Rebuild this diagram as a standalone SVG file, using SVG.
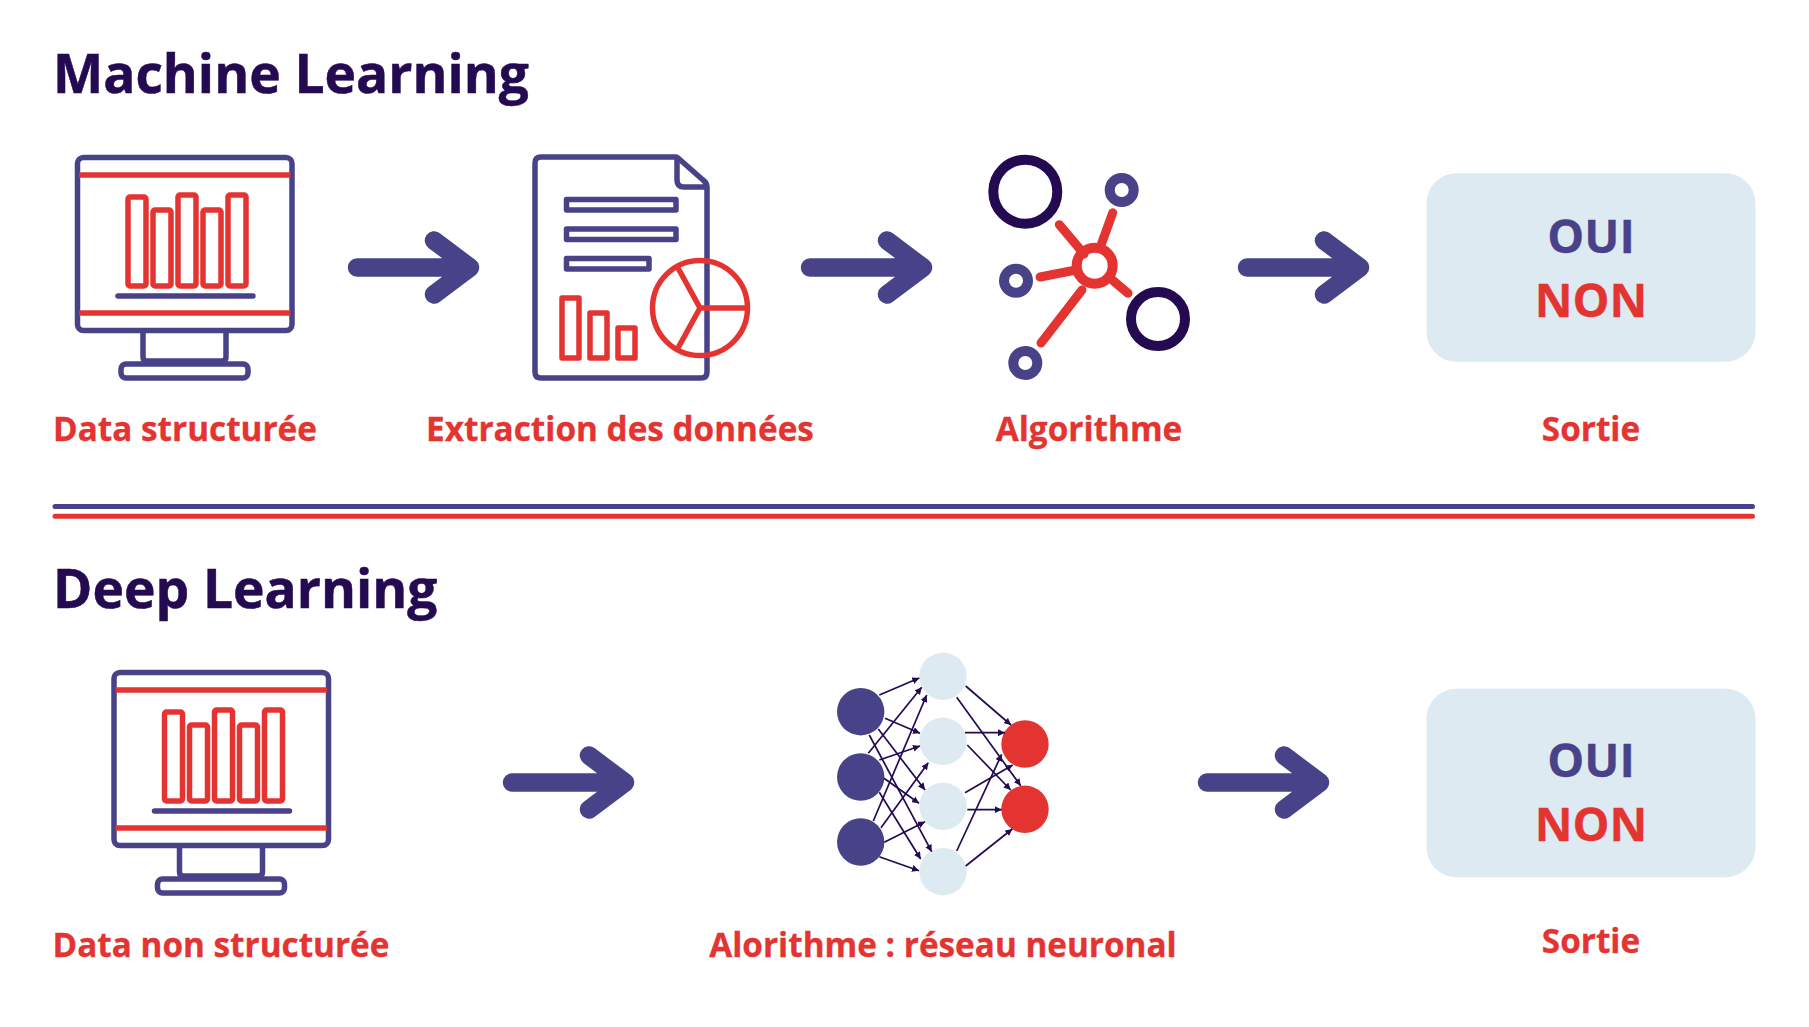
<svg xmlns="http://www.w3.org/2000/svg" xmlns:xlink="http://www.w3.org/1999/xlink" width="1809" height="1027" viewBox="0 0 1809 1027">
<style>
text{font-family:"Open Sans","Noto Sans",sans-serif;font-weight:700}
.t{font-size:53.300px;fill:#230a51;stroke:#230a51;stroke-width:.5}
.l{font-size:33.300px;fill:#e33432;text-anchor:middle;stroke:#e33432;stroke-width:.3}
.o{font-size:46.500px;fill:#484288;text-anchor:middle;stroke:#484288;stroke-width:.3}
.n{font-size:46.500px;fill:#e33432;text-anchor:middle;stroke:#e33432;stroke-width:.3}
.b{fill:none;stroke:#484288;stroke-width:5.500;stroke-linejoin:round;stroke-linecap:round}
.r{fill:none;stroke:#e33432;stroke-width:5.500;stroke-linejoin:round;stroke-linecap:round}
.w{fill:none;stroke:#484288;stroke-width:18.500;stroke-linecap:round;stroke-linejoin:round}
.box{fill:#deeaf2}
.e{stroke:#230a51;stroke-width:1.700;fill:none;marker-end:url(#m)}
</style>
<defs>
<marker id="m" markerUnits="userSpaceOnUse" markerWidth="8" markerHeight="7" refX="7" refY="3.500" orient="auto"><path d="M0 0L7 3.500L0 7z" fill="#230a51"/></marker>
<g id="monitor">
<rect class="b" x="77.500" y="157.500" width="214.500" height="173" rx="6"/>
<path class="r" style="stroke-linecap:butt" d="M79 175H290.500M79 313H290.500"/>
<rect class="r" x="128" y="197" width="18" height="89" rx="2"/>
<rect class="r" x="153" y="210" width="18" height="76" rx="2"/>
<rect class="r" x="178" y="195" width="18" height="91" rx="2"/>
<rect class="r" x="203" y="210" width="18" height="76" rx="2"/>
<rect class="r" x="228" y="195" width="18" height="91" rx="2"/>
<path class="b" d="M118 296H253"/>
<path class="b" d="M143 332V357Q143 361 147 361H222Q226 361 226 357V332"/>
<rect class="b" x="121" y="364" width="127" height="14" rx="5"/>
</g>
</defs>

<text class="t" x="53" y="93">Machine Learning</text>
<text class="t" x="53" y="608">Deep Learning</text>
<path d="M55 506.500H1752.500" stroke="#484288" stroke-width="5" stroke-linecap="round"/>
<path d="M55 516.300H1752.500" stroke="#e33432" stroke-width="5" stroke-linecap="round"/>

<g id="connectors">
<path class="w" d="M357 267.500H470M434 240.500L470 267.500L434 294.500"/>
<path class="w" d="M810 267.500H923M887 240.500L923 267.500L887 294.500"/>
<path class="w" d="M1247 267.500H1360M1324 240.500L1360 267.500L1324 294.500"/>
<path class="w" d="M512 782.500H625M589 755.500L625 782.500L589 809.500"/>
<path class="w" d="M1207 782.500H1320M1284 755.500L1320 782.500L1284 809.500"/>
</g>

<g id="node-data-structuree">
<use xlink:href="#monitor" href="#monitor"/>
<text class="l" x="185" y="441">Data structurée</text>
</g>

<g id="node-extraction">
<path class="b" d="M676 157H541Q535 157 535 163V372Q535 378 541 378H701Q707 378 707 372V187Q707 183 703 180L678 158ZM677 158V180Q677 187 684 187H704"/>
<path class="b" d="M566.500 199.500H676V210H566.500ZM566.500 229H676V239.500H566.500ZM566.500 258.500H649V269H566.500Z"/>
<path class="r" d="M562 298H579V358H562ZM590 313H607V358H590ZM618 328H635V358H618Z"/>
<circle class="r" cx="700" cy="308" r="47.500"/>
<path class="r" d="M678 268L700 308H747M700 308L678 348"/>
<text class="l" x="620" y="441">Extraction des données</text>
</g>

<g id="node-algorithme">
<circle cx="1025.300" cy="191.700" r="32" fill="none" stroke="#230a51" stroke-width="10"/>
<circle cx="1158" cy="319" r="27" fill="none" stroke="#230a51" stroke-width="10"/>
<circle cx="1121.700" cy="190" r="12" fill="none" stroke="#484288" stroke-width="10"/>
<circle cx="1016" cy="280.700" r="12" fill="none" stroke="#484288" stroke-width="10"/>
<circle cx="1025.300" cy="363" r="12" fill="none" stroke="#484288" stroke-width="10"/>
<path d="M1059.300 224.700L1084 254M1112.700 212.700L1100 248M1040 277L1076 270M1041 343L1082 290M1128 293.300L1110 278" fill="none" stroke="#e33432" stroke-width="9" stroke-linecap="round"/>
<circle cx="1094.700" cy="265.700" r="18" fill="none" stroke="#e33432" stroke-width="10"/>
<text class="l" x="1089" y="441">Algorithme</text>
</g>

<g id="node-sortie-1">
<rect class="box" x="1426.500" y="173.300" width="329" height="188.500" rx="30"/>
<text class="o" x="1591" y="253">OUI</text>
<text class="n" x="1591" y="317">NON</text>
<text class="l" x="1591" y="441">Sortie</text>
</g>

<g id="node-data-non-structuree">
<use xlink:href="#monitor" href="#monitor" x="36.500" y="515"/>
<text class="l" x="221" y="957">Data non structurée</text>
</g>

<g id="node-reseau">
<circle cx="860.700" cy="711.700" r="23.700" fill="#484288"/>
<circle cx="860.700" cy="777" r="23.700" fill="#484288"/>
<circle cx="860.700" cy="842" r="23.700" fill="#484288"/>
<circle class="box" cx="943" cy="676.300" r="23.700"/>
<circle class="box" cx="943" cy="741.300" r="23.700"/>
<circle class="box" cx="943" cy="806.300" r="23.700"/>
<circle class="box" cx="943" cy="871.700" r="23.700"/>
<circle cx="1025" cy="744" r="23.700" fill="#e33432"/>
<circle cx="1025" cy="809.300" r="23.700" fill="#e33432"/>
<g class="edges">
<path class="e" d="M879.300 695L919.300 678"/><path class="e" d="M885 718.300L920 733.300"/><path class="e" d="M878.300 729L925 790"/><path class="e" d="M869.300 735L931.700 851.700"/>
<path class="e" d="M868.300 753.300L921.700 687.300"/><path class="e" d="M879.300 760L920 746"/><path class="e" d="M884 778.300L919 803.300"/><path class="e" d="M879.300 792.300L920.700 859"/>
<path class="e" d="M873.300 821L926.700 695"/><path class="e" d="M881 827.700L928.300 762.700"/><path class="e" d="M884.300 842.300L925 821.700"/><path class="e" d="M879.300 856.700L919 870.700"/>
<path class="e" d="M965.700 686L1011 725"/><path class="e" d="M956.700 697.300L1020.700 785.700"/><path class="e" d="M965 732.700H1005"/><path class="e" d="M967.300 745L1010.700 790"/><path class="e" d="M965 792.700L1012.700 765"/><path class="e" d="M967.300 809.700H1001.700"/><path class="e" d="M956.700 851L1001.700 754.300"/><path class="e" d="M965.700 866L1012.300 829"/>
</g>
<text class="l" x="943" y="957">Alorithme : réseau neuronal</text>
</g>

<g id="node-sortie-2">
<rect class="box" x="1426.500" y="688.800" width="329" height="188.500" rx="30"/>
<text class="o" x="1591" y="776.500">OUI</text>
<text class="n" x="1591" y="841">NON</text>
<text class="l" x="1591" y="953">Sortie</text>
</g>
</svg>
